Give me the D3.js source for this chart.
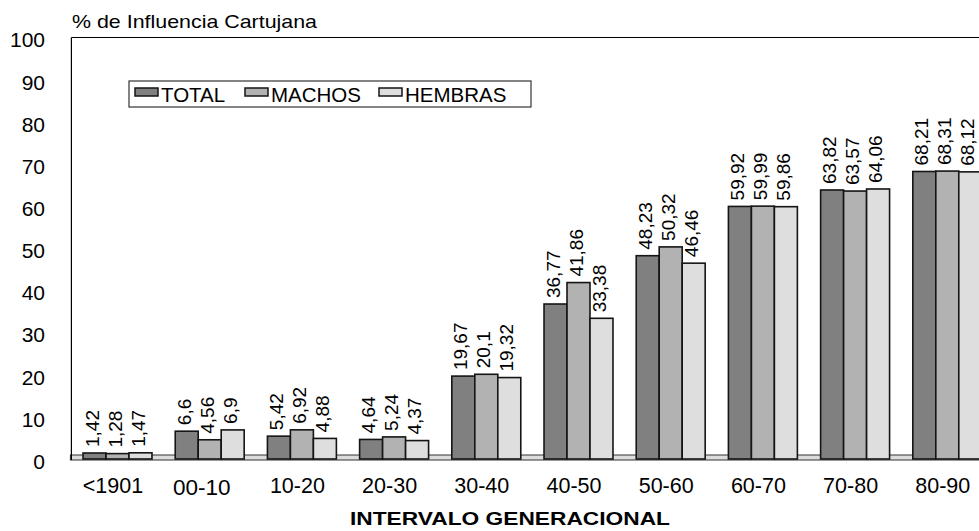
<!DOCTYPE html>
<html>
<head>
<meta charset="utf-8">
<script src="https://cdn.jsdelivr.net/npm/d3@7"></script>
<style>
  body { margin: 0; background: #fff; }
  svg { display: block; font-family: "Liberation Sans", Arial, sans-serif; }
</style>
</head>
<body>
<svg id="chart" width="979" height="531"></svg>
<script>
const categories = ["<1901", "00-10", "10-20", "20-30", "30-40", "40-50", "50-60", "60-70", "70-80", "80-90"];
const series = ["TOTAL", "MACHOS", "HEMBRAS"];
const total = [1.42, 6.6, 5.42, 4.64, 19.67, 36.77, 48.23, 59.92, 63.82, 68.21];
const machos = [1.28, 4.56, 6.92, 5.24, 20.1, 41.86, 50.32, 59.99, 63.57, 68.31];
const hembras = [1.47, 6.9, 4.88, 4.37, 19.32, 33.38, 46.46, 59.86, 64.06, 68.12];
const yTicks = [0, 10, 20, 30, 40, 50, 60, 70, 80, 90, 100];

const values = { TOTAL: total, MACHOS: machos, HEMBRAS: hembras };
const fills = { TOTAL: "#808080", MACHOS: "#b2b2b2", HEMBRAS: "#dedede" };

const svg = d3.select("#chart");

const plotLeft = 71.4, plotTop = 37.5, plotBottom = 459, plotW = 922;

const x0 = d3.scaleBand()
    .domain(categories)
    .range([plotLeft, plotLeft + plotW])
    .paddingInner(0.252)
    .paddingOuter(0.126);

const x1 = d3.scaleBand()
    .domain(series)
    .range([0, x0.bandwidth()]);

const y = d3.scaleLinear()
    .domain([0, 100])
    .range([plotBottom, plotTop]);

// title
svg.append("text")
    .attr("x", 72)
    .attr("y", 28)
    .attr("font-size", 19)
    .attr("textLength", 245)
    .attr("lengthAdjust", "spacingAndGlyphs")
    .text("% de Influencia Cartujana");

// floor strip
svg.append("rect")
    .attr("x", plotLeft - 1)
    .attr("y", plotBottom - 4)
    .attr("width", plotW)
    .attr("height", 5)
    .attr("fill", "#dcdcdc")
    .attr("stroke", "#333")
    .attr("stroke-width", 1);

// axis frame
svg.append("line")
    .attr("x1", plotLeft).attr("x2", plotLeft)
    .attr("y1", y(100)).attr("y2", plotBottom + 1)
    .attr("stroke", "#000").attr("stroke-width", 1.2);
svg.append("line")
    .attr("x1", plotLeft).attr("x2", plotLeft + plotW)
    .attr("y1", y(100)).attr("y2", y(100))
    .attr("stroke", "#000").attr("stroke-width", 1.2);

// y labels
svg.append("g")
    .selectAll("text")
    .data(yTicks)
    .join("text")
    .attr("x", 45)
    .attr("y", d => y(d) + 2.5)
    .attr("dy", "0.35em")
    .attr("text-anchor", "end")
    .attr("font-size", 21)
    .text(d => d);

// bars
const groups = svg.append("g")
    .selectAll("g")
    .data(categories)
    .join("g")
    .attr("transform", d => `translate(${x0(d)},0)`);

groups.selectAll("rect")
    .data((c, i) => series.map(s => ({ s, v: values[s][i] })))
    .join("rect")
    .attr("x", d => x1(d.s))
    .attr("y", d => y(d.v))
    .attr("width", x1.bandwidth())
    .attr("height", d => plotBottom - y(d.v))
    .attr("fill", d => fills[d.s])
    .attr("stroke", "#151515")
    .attr("stroke-width", 1.6);

// value labels, sitting a bit left of the bar centre like the original
groups.selectAll("text")
    .data((c, i) => series.map(s => ({ s, v: values[s][i] })))
    .join("text")
    .attr("transform", d => `translate(${x1(d.s) + x1.bandwidth() / 2},${y(d.v) - 6}) rotate(-90)`)
    .attr("dy", "0.22em")
    .attr("font-size", 19)
    .text(d => String(d.v).replace(".", ","));

// x labels
svg.append("g")
    .selectAll("text")
    .data(categories)
    .join("text")
    .attr("x", d => x0(d) + x0.bandwidth() / 2 - (d === "00-10" ? 8 : 4.5))
    .attr("y", d => d === "00-10" ? 495 : 493)
    .attr("text-anchor", "middle")
    .attr("font-size", d => d === "00-10" ? 22.5 : 21.5)
    .text(d => d);

svg.append("text")
    .attr("x", 350)
    .attr("y", 525)
    .attr("font-size", 19)
    .attr("font-weight", "bold")
    .attr("textLength", 320)
    .attr("lengthAdjust", "spacingAndGlyphs")
    .text("INTERVALO GENERACIONAL");

// legend
const legend = svg.append("g");
legend.append("rect")
    .attr("x", 129).attr("y", 81)
    .attr("width", 402).attr("height", 26)
    .attr("fill", "#fff")
    .attr("stroke", "#333")
    .attr("stroke-width", 1.2);

const legendX = [135, 245, 379];
const item = legend.selectAll("g.item")
    .data(series)
    .join("g")
    .attr("class", "item")
    .attr("transform", (d, i) => `translate(${legendX[i]},0)`);

item.append("rect")
    .attr("x", 0).attr("y", 88)
    .attr("width", 23).attr("height", 8)
    .attr("fill", d => fills[d])
    .attr("stroke", "#151515")
    .attr("stroke-width", 1.5);

item.append("text")
    .attr("x", 26)
    .attr("y", 102)
    .attr("font-size", 20.5)
    .text(d => d);
</script>
</body>
</html>
